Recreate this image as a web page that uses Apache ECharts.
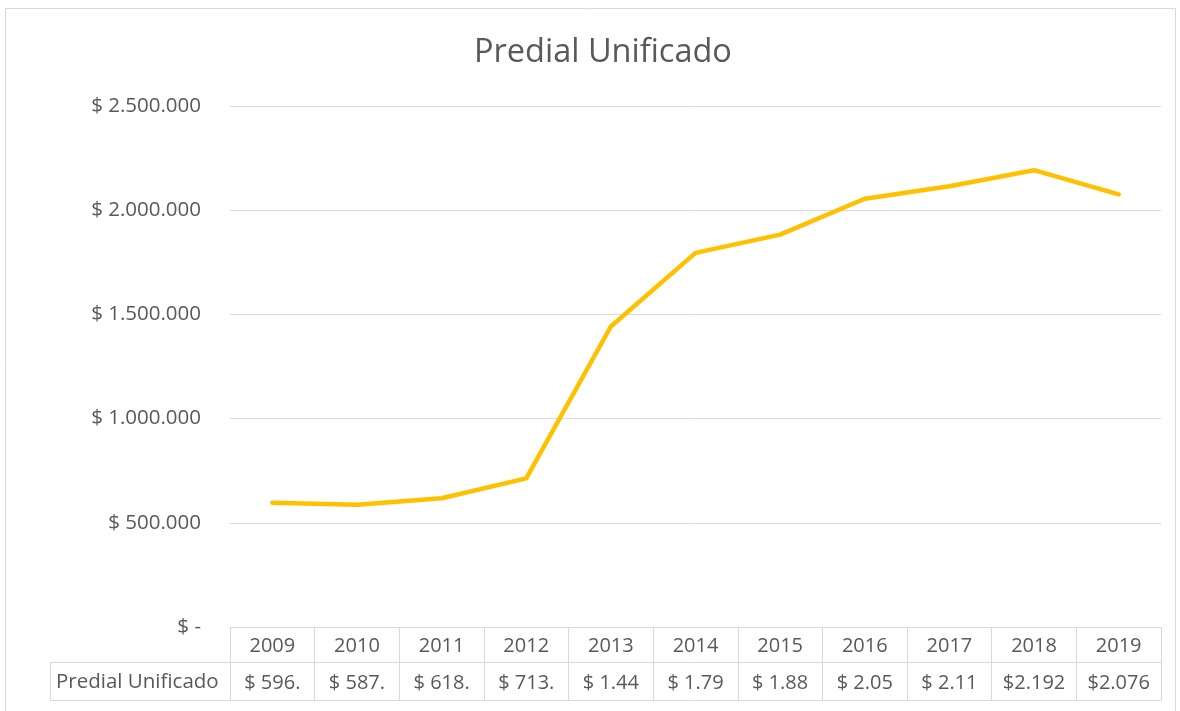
<!DOCTYPE html>
<html>
<head>
<meta charset="utf-8">
<script src="https://cdn.jsdelivr.net/npm/echarts@6/dist/echarts.min.js"></script>
<style>html,body{margin:0;padding:0;background:#fff}#c{width:1180px;height:711px}</style>
</head>
<body>
<div id="c"></div>
<script>
const chartTitle = 'Predial Unificado';
const seriesName = 'Predial Unificado';
const years = ['2009','2010','2011','2012','2013','2014','2015','2016','2017','2018','2019'];
const values = [596000, 587000, 618000, 713000, 1442000, 1795000, 1883000, 2055000, 2115000, 2192000, 2076000];
const tableLabels = ['$ 596.','$ 587.','$ 618.','$ 713.','$ 1.44','$ 1.79','$ 1.88','$ 2.05','$ 2.11','$2.192','$2.076'];

const FONT = '"Open Sans", Lato, sans-serif';
const TXT = '#595959';
const GRID = '#d9d9d9';

function fmt(v){
  if (v === 0) return '$ -';
  return '$ ' + String(v).replace(/\B(?=(\d{3})+(?!\d))/g, '.');
}

const chart = echarts.init(document.getElementById('c'));
chart.setOption({
  backgroundColor: '#fff',
  animation: false,
  title: {
    text: chartTitle, left: 469, top: 31,
    textStyle: {fontFamily: FONT, fontSize: 32.5, fontWeight: 'normal', color: TXT}
  },
  grid: {left: 230, right: 19, top: 106, bottom: 84, containLabel: false},
  xAxis: [
    {
      type: 'category', data: years, position: 'bottom', boundaryGap: true,
      axisLine: {show: true, lineStyle: {color: GRID, width: 1}},
      axisTick: {show: true, interval: 0, length: 73, lineStyle: {color: GRID, width: 1}},
      axisLabel: {interval: 0, margin: 9, fontFamily: FONT, fontSize: 20, color: TXT}
    },
    {
      type: 'category', data: tableLabels, position: 'bottom', offset: 35, boundaryGap: true,
      axisLine: {show: true, lineStyle: {color: GRID, width: 1}},
      axisTick: {show: false},
      axisLabel: {interval: 0, margin: 11, fontFamily: FONT, fontSize: 20, color: TXT}
    },
    {
      type: 'category', data: years, position: 'bottom', offset: 73, boundaryGap: true,
      axisLine: {show: true, lineStyle: {color: GRID, width: 1}},
      axisTick: {show: false}, axisLabel: {show: false}
    }
  ],
  yAxis: {
    type: 'value', min: 0, max: 2500000, interval: 500000,
    axisLine: {show: false}, axisTick: {show: false},
    axisLabel: {formatter: fmt, margin: 29, fontFamily: FONT, fontSize: 20.5, color: TXT},
    splitLine: {show: true, lineStyle: {color: GRID, width: 1}}
  },
  series: [{
    name: seriesName, type: 'line', data: values, xAxisIndex: 0,
    showSymbol: false, symbol: 'none',
    lineStyle: {color: '#FFC000', width: 4.5, cap: 'round', join: 'round'},
    itemStyle: {color: '#FFC000'}
  }],
  graphic: [
    {type: 'rect', shape: {x: 5.5, y: 8.5, width: 1170, height: 720}, style: {fill: 'none', stroke: GRID, lineWidth: 1}, silent: true},
    {type: 'line', shape: {x1: 50, y1: 662.5, x2: 230, y2: 662.5}, style: {stroke: GRID, lineWidth: 1}},
    {type: 'line', shape: {x1: 50, y1: 700.5, x2: 230, y2: 700.5}, style: {stroke: GRID, lineWidth: 1}},
    {type: 'line', shape: {x1: 50.5, y1: 662, x2: 50.5, y2: 701}, style: {stroke: GRID, lineWidth: 1}},
    {type: 'text', left: 56, top: 672, style: {text: seriesName, font: '20.5px ' + FONT, fill: TXT}}
  ]
});
</script>
</body>
</html>
